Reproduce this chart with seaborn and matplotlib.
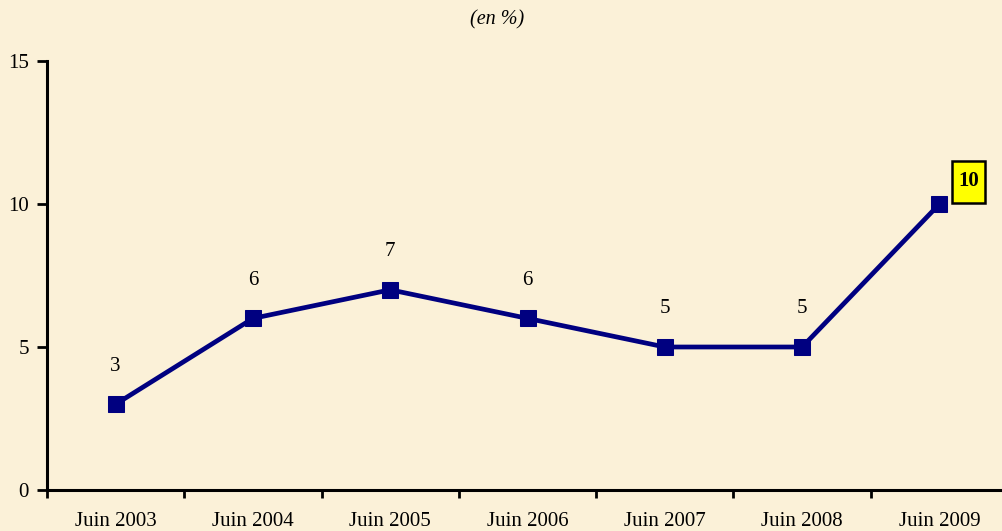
import matplotlib
matplotlib.use("Agg")
import matplotlib.pyplot as plt
from matplotlib.patches import Rectangle
from matplotlib.transforms import IdentityTransform
import seaborn as sns
import pandas as pd

periods = ["Juin 2003", "Juin 2004", "Juin 2005", "Juin 2006",
           "Juin 2007", "Juin 2008", "Juin 2009"]
rates = [3, 6, 7, 6, 5, 5, 10]
y_ticks = [0, 5, 10, 15]

sns.set_theme(style="white")
plt.rcParams["font.family"] = ["Liberation Serif", "DejaVu Serif"]

bg = "#FBF1D8"
navy = "#000080"
fs = 15
fig = plt.figure(figsize=(10.02, 5.31), dpi=100, facecolor=bg)
W, H = 1002, 531
x0, x1 = 47, 47 + 7 * 137.3
y_top, y_bot = 61, 490
ax = fig.add_axes([x0 / W, 1 - y_bot / H, (x1 - x0) / W, (y_bot - y_top) / H])
ax.set_facecolor(bg)

df = pd.DataFrame({"periode": periods, "taux": rates})
sns.lineplot(data=df, x="periode", y="taux", ax=ax, color=navy,
             linewidth=3.4, marker="s", markersize=12,
             markerfacecolor=navy, markeredgecolor=navy, sort=False)

ax.set_xlim(-0.5, len(periods) - 0.5)
ax.set_ylim(0, 15)
ax.set_yticks(y_ticks)
ax.set_yticklabels([str(v) for v in y_ticks], fontsize=fs, color="black")

# category boundaries carry the tick marks, labels sit between them
ax.set_xticks([i - 0.5 for i in range(len(periods) + 1)])
ax.set_xticklabels([])
ax.set_xticks(range(len(periods)), minor=True)
ax.set_xticklabels(periods, minor=True, fontsize=fs, color="black")
ax.tick_params(axis="x", which="major", bottom=True, length=6, width=2,
               direction="out", color="black")
ax.tick_params(axis="x", which="minor", length=0, pad=16)
ax.tick_params(axis="y", left=True, length=7, width=2, direction="out",
               color="black", pad=6)

ax.set_xlabel("")
ax.set_ylabel("")
for side in ["top", "right"]:
    ax.spines[side].set_visible(False)
for side in ["left", "bottom"]:
    ax.spines[side].set_color("black")
    ax.spines[side].set_linewidth(2.2)

for i, v in enumerate(rates[:-1]):
    ax.annotate(str(v), (i, v), xytext=(0, 27.5), textcoords="offset points",
                ha="center", va="center", fontsize=fs, color="black")

# highlighted last value in a yellow box, up and right of its marker
fig.canvas.draw()
px, py = ax.transData.transform((len(rates) - 1, rates[-1]))
bw, bh = 33, 42
cx, cy = px + 29.5, py + 22.5
box = Rectangle((cx - bw / 2, cy - bh / 2), bw, bh, transform=IdentityTransform(),
                facecolor="#FFFF00", edgecolor="black", linewidth=1.8,
                clip_on=False, zorder=5)
fig.add_artist(box)
fig.text(cx / W, cy / H, str(rates[-1]), ha="center", va="center",
         fontsize=fs, fontweight="bold", color="black", zorder=6)

fig.text(497 / W, 1 - 20 / H, "(en %)", ha="center", va="center",
         fontsize=14.5, style="italic", color="black")

fig.savefig("out.png", dpi=100, facecolor=bg)
